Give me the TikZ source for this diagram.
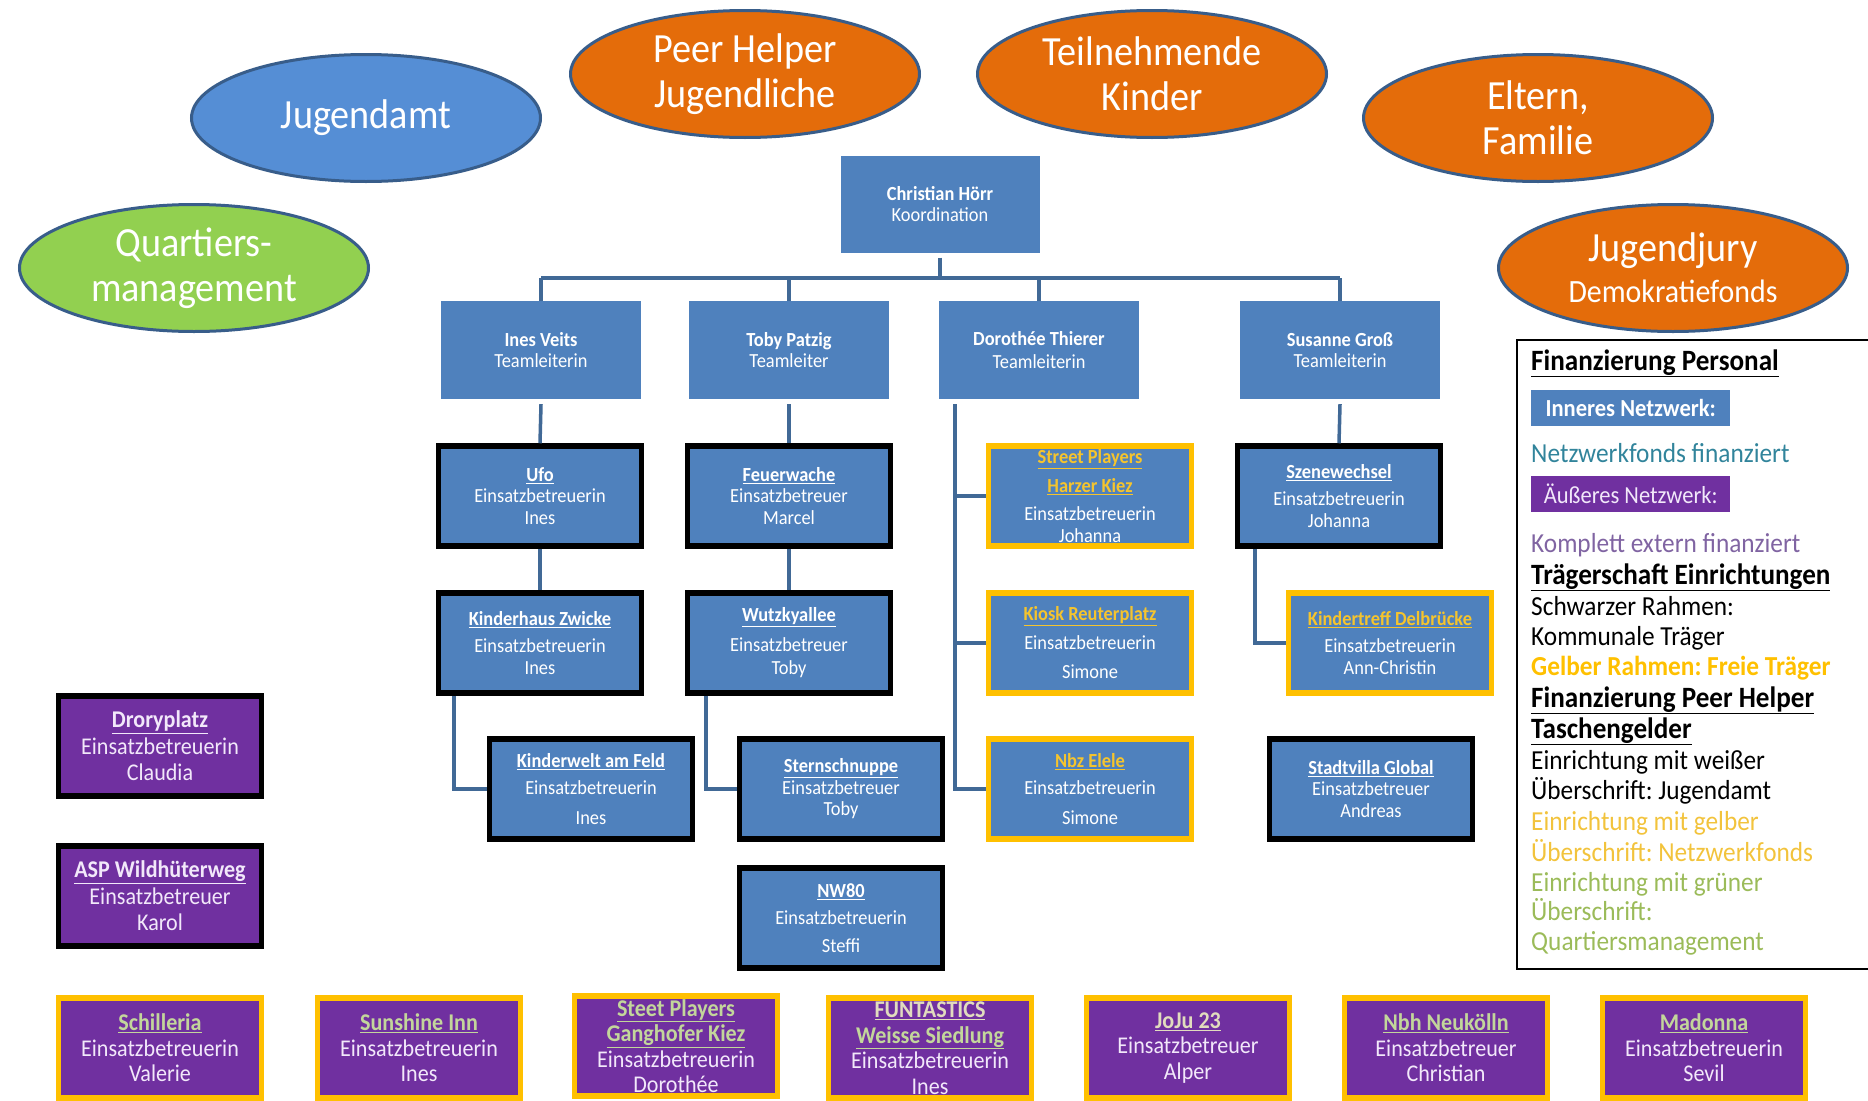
\documentclass[tikz,border=0pt]{standalone}
\usepackage{fontspec}
\setmainfont{Carlito}[FakeStretch=0.92]
\usetikzlibrary{shapes.geometric}
\frenchspacing
\definecolor{boxblue}{RGB}{79,129,189}
\definecolor{bubblue}{RGB}{85,142,213}
\definecolor{bubrim}{RGB}{56,93,138}
\definecolor{linkblue}{RGB}{65,105,150}
\definecolor{orng}{RGB}{228,108,10}
\definecolor{qmgreen}{RGB}{146,208,80}
\definecolor{lila}{RGB}{112,48,160}
\definecolor{gelb}{RGB}{255,192,0}
\definecolor{hdgelb}{RGB}{245,196,45}
\definecolor{hdgruen}{RGB}{195,214,155}
\definecolor{hdcreme}{RGB}{225,220,190}
\definecolor{lavtext}{RGB}{242,232,250}
\definecolor{fondsteal}{RGB}{49,132,155}
\definecolor{extlila}{RGB}{128,100,162}
\definecolor{leggelb}{RGB}{242,195,60}
\definecolor{leggruen}{RGB}{155,187,89}
\newcommand\fsz[2]{\fontsize{#1}{#2}\selectfont}
\newcommand\hd[1]{\textbf{\underline{#1}}}
\newcommand\hdy[1]{\textcolor{hdgelb}{\hd{#1}}}
\newcommand\hdg[1]{\textcolor{hdgruen}{\hd{#1}}}
\newcommand\hdc[1]{\textcolor{hdcreme}{\hd{#1}}}
\newcommand\leghd[1]{{\fsz{29.5}{30}\hd{#1}}}
\tikzset{
  bubble/.style={ellipse, draw=bubrim, line width=3pt, minimum width=349pt, minimum height=127pt,
    inner sep=0pt, align=center, text=white, font=\fsz{41.5}{45}},
  lead/.style={fill=boxblue, minimum width=200pt, minimum height=98pt, inner sep=0pt,
    align=center, text=white, font=\fsz{20}{21.5}},
  site/.style={lead, draw=black, line width=5.5pt, minimum width=203pt, minimum height=100pt},
  frei/.style={site, draw=gelb},
  ext/.style={site, fill=lila, text=lavtext, font=\fsz{24}{26.5}},
  extfrei/.style={ext, draw=gelb, font=\fsz{24}{25.5}},
  link/.style={draw=linkblue, line width=3.5pt},
  legtxt/.style={anchor=base west, inner sep=0pt, font=\fsz{27.5}{30}},
  legbar/.style={anchor=west, minimum width=199pt, minimum height=36pt, inner sep=0pt, font=\fsz{24.5}{26}}
}
\begin{document}
\begin{tikzpicture}[x=1pt,y=-1pt]%Netzwerk
\path[use as bounding box] (0,0) rectangle (1868,1100);
\clip (0,0) rectangle (1868,1100);
% Partner
\node[bubble, fill=bubblue] (jamt) at (366,118) {Jugendamt};
\node[bubble, fill=orng] (peer) at (745,74) {Peer Helper\\Jugendliche};
\node[bubble, fill=orng] (kinder) at (1152,74) {Teilnehmende\\Kinder};
\node[bubble, fill=orng] (eltern) at (1538,118) {Eltern,\\Familie};
\node[bubble, fill=qmgreen] (qm) at (194,268) {Quartiers-\\management};
\node[bubble, fill=orng] (jury) at (1673,268) {Jugendjury\\[-4pt]{\fsz{32.5}{36}Demokratiefonds}};
% Leitung
\node[lead, minimum width=199pt, minimum height=97pt] (koord) at (940,204) {\textbf{Christian Hörr}\\Koordination};
\node[lead] (veits) at (541,350) {\textbf{Ines Veits}\\Teamleiterin};
\node[lead] (patzig) at (789,350) {\textbf{Toby Patzig}\\Teamleiter};
\node[lead] (thierer) at (1039,350) {\textbf{Dorothée Thierer}\\[2pt]Teamleiterin};
\node[lead] (gross) at (1340,350) {\textbf{Susanne Groß}\\Teamleiterin};
% Einrichtungen
\node[site] (ufo) at (540,496) {\hd{Ufo}\\Einsatzbetreuerin\\Ines};
\node[site] (feuer) at (789,496) {\hd{Feuerwache}\\Einsatzbetreuer\\Marcel};
\node[frei] (harzer) at (1090,496) {\hdy{Street Players}\\[7pt]\hdy{Harzer Kiez}\\[7pt]Einsatzbetreuerin\\Johanna};
\node[site] (szene) at (1339,496) {\hd{Szenewechsel}\\[6pt]Einsatzbetreuerin\\Johanna};
\node[site] (zwicke) at (540,643) {\hd{Kinderhaus Zwicke}\\[6pt]Einsatzbetreuerin\\Ines};
\node[site] (wutzky) at (789,643) {\hd{Wutzkyallee}\\[8pt]Einsatzbetreuer\\[2pt]Toby};
\node[frei] (kiosk) at (1090,643) {\hdy{Kiosk Reuterplatz}\\[7pt]Einsatzbetreuerin\\[8pt]Simone};
\node[frei] (delbr) at (1390,643) {\hdy{Kindertreff Delbrücke}\\[6pt]Einsatzbetreuerin\\Ann-Christin};
\node[site] (feld) at (591,789) {\hd{Kinderwelt am Feld}\\[6pt]Einsatzbetreuerin\\[8pt]Ines};
\node[site] (stern) at (841,789) {\hd{Sternschnuppe}\\Einsatzbetreuer\\Toby};
\node[frei] (elele) at (1090,789) {\hdy{Nbz Elele}\\[6pt]Einsatzbetreuerin\\[8pt]Simone};
\node[site] (villa) at (1371,789) {\hd{Stadtvilla Global}\\Einsatzbetreuer\\Andreas};
\node[site] (nw) at (841,918) {\hd{NW80}\\[6pt]Einsatzbetreuerin\\[6pt]Steffi};
% aeusseres Netzwerk
\node[ext] (drory) at (160,746) {\hd{Droryplatz}\\Einsatzbetreuerin\\Claudia};
\node[ext] (wild) at (160,896) {\hd{ASP Wildhüterweg}\\Einsatzbetreuer\\Karol};
\node[extfrei] (schill) at (160,1048) {\hdg{Schilleria}\\Einsatzbetreuerin\\Valerie};
\node[extfrei] (sunshine) at (419,1048) {\hdg{Sunshine Inn}\\Einsatzbetreuerin\\Ines};
\node[extfrei] (ganghofer) at (676,1046) {\hdg{Steet Players}\\\hdg{Ganghofer Kiez}\\Einsatzbetreuerin\\Dorothée};
\node[extfrei] (funt) at (930,1048) {\hdc{FUNTASTICS}\\\hdg{Weisse Siedlung}\\Einsatzbetreuerin\\Ines};
\node[extfrei] (joju) at (1188,1048) {\hdc{JoJu 23}\\Einsatzbetreuer\\Alper};
\node[extfrei] (nbh) at (1446,1048) {\hdg{Nbh Neukölln}\\Einsatzbetreuer\\Christian};
\node[extfrei] (madonna) at (1704,1048) {\hdg{Madonna}\\Einsatzbetreuerin\\Sevil};
% Verbindungen
\coordinate (bus) at (940,278);
\draw[link] ([yshift=-5pt]koord.south) -- (koord.south |- bus);
\draw[link] (veits.north |- bus) -- (gross.north |- bus);
\foreach \n in {veits,patzig,thierer,gross} \draw[link] (\n.north |- bus) -- (\n.north);
\draw[link] ([yshift=-5pt]veits.south) -- (ufo.north);
\draw[link] ([yshift=-5pt]patzig.south) -- (feuer.north);
\draw[link] ([yshift=-5pt]gross.south) -- (szene.north);
\draw[link] (ufo.south) -- (zwicke.north);
\draw[link] (feuer.south) -- (wutzky.north);
\draw[link] ([xshift=18pt]zwicke.south west) |- (feld.west);
\draw[link] ([xshift=21pt]wutzky.south west) |- (stern.west);
\draw[link] ([xshift=20pt]szene.south west) |- (delbr.west);
\coordinate (dt) at ([xshift=16pt,yshift=-5pt]thierer.south west);
\foreach \n in {harzer,kiosk,elele} \draw[link] (dt) |- (\n.west);
% Legende
\draw[line width=1.5pt] (1517,340) rectangle (1890,969);
\node[legbar, fill=boxblue, text=white, font=\fsz{24.5}{26}\bfseries] (inner) at (1531,408) {Inneres Netzwerk:};
\node[legbar, fill=lila, text=lavtext] (outer) at (1531,494) {Äußeres Netzwerk:};
\foreach \y/\c/\t [count=\i] in {370/black/\leghd{Finanzierung Personal},
    462/fondsteal/Netzwerkfonds finanziert,
    552/extlila/Komplett extern finanziert,
    584/black/\leghd{Trägerschaft Einrichtungen},
    615/black/Schwarzer Rahmen:,
    645/black/Kommunale Träger,
    675/gelb/\textbf{Gelber Rahmen: Freie Träger},
    707/black/\leghd{Finanzierung Peer Helper},
    738/black/\leghd{Taschengelder},
    769/black/Einrichtung mit weißer,
    799/black/Überschrift: Jugendamt,
    830/leggelb/Einrichtung mit gelber,
    861/leggelb/Überschrift: Netzwerkfonds,
    891/leggruen/Einrichtung mit grüner,
    920/leggruen/Überschrift:,
    950/leggruen/Quartiersmanagement}
  \node[legtxt, text=\c] (lg\i) at (1531,\y) {\t};
\end{tikzpicture}
\end{document}
